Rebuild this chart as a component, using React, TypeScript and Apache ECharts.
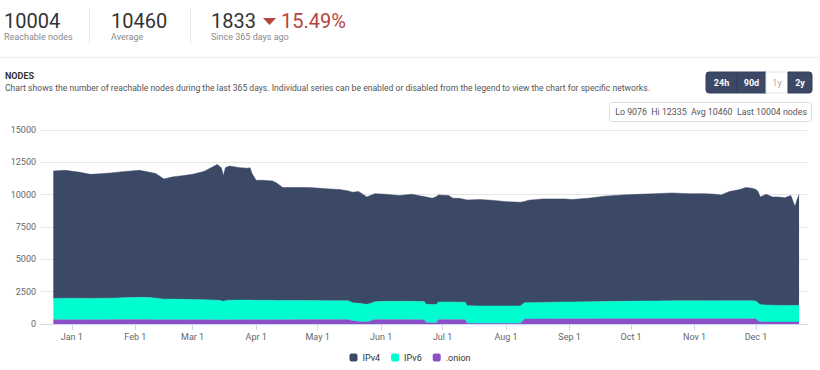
import React, { useEffect, useRef } from "react";
import * as echarts from "echarts";

const dates = [
  "2017-12-23", "2017-12-29", "2018-01-05", "2018-01-10", "2018-01-15", "2018-01-20", "2018-01-26",
  "2018-02-03", "2018-02-08", "2018-02-11", "2018-02-15", "2018-02-19", "2018-02-24", "2018-03-01",
  "2018-03-06", "2018-03-07", "2018-03-10", "2018-03-13", "2018-03-15", "2018-03-16", "2018-03-17",
  "2018-03-19", "2018-03-24", "2018-03-28", "2018-03-29", "2018-03-30", "2018-04-01", "2018-04-04",
  "2018-04-09", "2018-04-11", "2018-04-14", "2018-04-22", "2018-04-27", "2018-05-07", "2018-05-12",
  "2018-05-16", "2018-05-18", "2018-05-21", "2018-05-24", "2018-05-25", "2018-05-27", "2018-05-29",
  "2018-06-03", "2018-06-10", "2018-06-16", "2018-06-21", "2018-06-22", "2018-06-23", "2018-06-26",
  "2018-06-28", "2018-06-29", "2018-07-04", "2018-07-06", "2018-07-09", "2018-07-12", "2018-07-13",
  "2018-07-19", "2018-07-25", "2018-08-01", "2018-08-08", "2018-08-10", "2018-08-12", "2018-08-19",
  "2018-08-30", "2018-09-02", "2018-09-10", "2018-09-18", "2018-09-27", "2018-10-05", "2018-10-13",
  "2018-10-21", "2018-10-29", "2018-11-06", "2018-11-11", "2018-11-14", "2018-11-18", "2018-11-23",
  "2018-11-26", "2018-11-29", "2018-12-01", "2018-12-02", "2018-12-03", "2018-12-06", "2018-12-09",
  "2018-12-12", "2018-12-15", "2018-12-18", "2018-12-20", "2018-12-21", "2018-12-22",
];

const ipv4 = [
  9850, 9890, 9740, 9590, 9630, 9680, 9750,
  9820, 9690, 9630, 9290, 9440, 9560, 9680,
  9900, 9960, 10230, 10495, 10300, 9720, 10290,
  10380, 10240, 10190, 10240, 9790, 9270, 9280,
  9230, 9080, 8730, 8730, 8740, 8640, 8590,
  8500, 8540, 8640, 8390, 8310, 8350, 8360,
  8280, 8170, 8270, 8140, 8110, 8300, 8210,
  8340, 8280, 8230, 8020, 8030, 7930, 8170,
  8230, 8180, 8070, 8010, 7830, 7920, 8000,
  7970, 7920, 8000, 8140, 8220, 8260, 8300,
  8340, 8280, 8290, 8240, 8190, 8440, 8590,
  8750, 8710, 8620, 8620, 8320, 8570, 8370,
  8380, 8330, 8490, 7646, 8160, 8554,
];

const ipv6 = [
  1650, 1660, 1660, 1650, 1660, 1660, 1690,
  1720, 1700, 1670, 1590, 1600, 1580, 1560,
  1550, 1540, 1540, 1520, 1480, 1450, 1480,
  1510, 1520, 1520, 1520, 1510, 1510, 1500,
  1500, 1490, 1490, 1480, 1470, 1460, 1460,
  1450, 1400, 1400, 1380, 1360, 1350, 1380,
  1410, 1420, 1420, 1410, 1410, 1410, 1410,
  1410, 1360, 1360, 1360, 1350, 1350, 1360,
  1340, 1340, 1340, 1340, 1270, 1270, 1280,
  1300, 1300, 1320, 1330, 1350, 1360, 1370,
  1380, 1390, 1380, 1380, 1380, 1390, 1390,
  1390, 1390, 1380, 1390, 1330, 1300, 1290,
  1280, 1280, 1280, 1270, 1280, 1290,
];

const onion = [
  330, 330, 330, 330, 330, 340, 340,
  340, 340, 330, 330, 330, 330, 330,
  330, 330, 320, 320, 310, 300, 320,
  330, 330, 330, 330, 330, 330, 330,
  330, 330, 330, 340, 340, 340, 340,
  340, 250, 200, 160, 150, 250, 340,
  340, 340, 340, 330, 330, 110, 100,
  100, 340, 340, 340, 340, 340, 60,
  50, 50, 50, 60, 380, 380, 390,
  400, 400, 400, 410, 410, 410, 410,
  410, 410, 410, 410, 410, 410, 410,
  410, 400, 400, 230, 170, 160, 160,
  160, 160, 160, 160, 160, 160,
];

const xTickDates = [
  "2018-01-01", "2018-02-01", "2018-03-01", "2018-04-01", "2018-05-01", "2018-06-01",
  "2018-07-01", "2018-08-01", "2018-09-01", "2018-10-01", "2018-11-01", "2018-12-01",
];
const xTickLabels = ["Jan 1", "Feb 1", "Mar 1", "Apr 1", "May 1", "Jun 1", "Jul 1", "Aug 1", "Sep 1", "Oct 1", "Nov 1", "Dec 1"];
const seriesNames = ["IPv4", "IPv6", ".onion"];
const headerValues = ["10004", "10460", "1833"];
const headerLabels = ["Reachable nodes", "Average", "Since 365 days ago"];
const changePct = "15.49%";
const rangeButtons = ["24h", "90d", "1y", "2y"];
const statsText = "Lo 9076  Hi 12335  Avg 10460  Last 10004 nodes";

const toTs = (s: string) => {
  const [y, m, d] = s.split("-").map(Number);
  return Date.UTC(y, m - 1, d);
};

const FONT = "Roboto, 'Noto Sans', sans-serif";

export default function App() {
  const ref = useRef<HTMLDivElement>(null);

  useEffect(() => {
    document.body.style.margin = "0";
    if (!ref.current) return;
    const chart = echarts.init(ref.current, null, { renderer: "svg" });
    const ts = dates.map(toTs);
    const tickTs = xTickDates.map(toTs);
    const mk = (arr: number[]) => arr.map((v, i) => [ts[i], v]);
    const xMin = Date.UTC(2017, 11, 16, 12);
    const xMax = Date.UTC(2018, 11, 25, 21);

    const colors: Record<string, string> = { IPv4: "#3b4866", IPv6: "#00fdd0", ".onion": "#8c50c6" };

    const btnX = [706, 737, 766, 788];
    const btnW = [31, 29, 22, 24];
    const buttons: any[] = [];
    rangeButtons.forEach((b, i) => {
      const active = b !== "1y";
      buttons.push({
        type: "rect",
        shape: { x: btnX[i], y: 72, width: btnW[i], height: 21, r: i === 0 ? [3, 0, 0, 3] : i === 3 ? [0, 3, 3, 0] : 0 },
        style: { fill: active ? "#3b4866" : "#ffffff", stroke: active ? "#33405c" : "#e2e2e2", lineWidth: 1 },
      });
      buttons.push({
        type: "text",
        x: btnX[i] + btnW[i] / 2,
        y: 83,
        style: { text: b, fill: active ? "#ffffff" : "#aaaaaa", fontSize: 9, fontFamily: FONT, fontWeight: active ? "bold" : "normal", align: "center", verticalAlign: "middle" },
      });
    });

    const hx = [4, 111, 211];
    const header: any[] = [];
    headerValues.forEach((v, i) => {
      header.push({ type: "text", x: hx[i], y: 21, style: { text: v, fill: "#333333", fontSize: 20, fontFamily: FONT, verticalAlign: "middle" } });
      header.push({ type: "text", x: hx[i], y: 37, style: { text: headerLabels[i], fill: "#8a8a8a", fontSize: 9, fontFamily: FONT, verticalAlign: "middle" } });
    });

    const areaSeries = (name: string, arr: number[]) => ({
      name,
      type: "line",
      stack: "nodes",
      xAxisIndex: 0,
      data: mk(arr),
      showSymbol: false,
      symbol: "none",
      lineStyle: { width: 0.5, color: colors[name] },
      areaStyle: { color: colors[name], opacity: 1 },
      itemStyle: { color: colors[name] },
    });

    chart.setOption({
      animation: false,
      grid: { left: 40, right: 13, top: 130, bottom: 46, containLabel: false },
      legend: {
        data: seriesNames,
        left: "center",
        top: 348,
        icon: "roundRect",
        itemWidth: 8,
        itemHeight: 8,
        itemGap: 11,
        textStyle: { fontSize: 9, color: "#333333", fontFamily: FONT },
      },
      xAxis: [
        {
          type: "time",
          min: xMin,
          max: xMax,
          axisLine: { show: false },
          axisTick: { show: false },
          axisLabel: { show: false },
          splitLine: { show: false },
        },
        {
          type: "value",
          min: xMin,
          max: xMax,
          position: "bottom",
          axisLine: { show: true, onZero: false, lineStyle: { color: "#ccd6eb" } },
          axisTick: { show: true, customValues: tickTs, length: 6, lineStyle: { color: "#ccd6eb" } },
          axisLabel: {
            customValues: tickTs,
            margin: 8,
            fontSize: 9,
            color: "#666666",
            fontFamily: FONT,
            formatter: (v: number) => {
              const i = tickTs.indexOf(Number(v));
              return i >= 0 ? xTickLabels[i] : "";
            },
          },
          splitLine: { show: false },
        },
      ],
      yAxis: {
        type: "value",
        min: 0,
        max: 15000,
        interval: 2500,
        axisLine: { show: false },
        axisTick: { show: false },
        axisLabel: { fontSize: 9, color: "#666666", fontFamily: FONT, margin: 4, formatter: (v: number) => String(v) },
        splitLine: { lineStyle: { color: "#e6e6e6" } },
      },
      series: [areaSeries(".onion", onion), areaSeries("IPv6", ipv6), areaSeries("IPv4", ipv4)],
      graphic: [
        ...header,
        { type: "line", shape: { x1: 89.5, y1: 8, x2: 89.5, y2: 44 }, style: { stroke: "#e8e8e8", lineWidth: 1 } },
        { type: "line", shape: { x1: 190.5, y1: 8, x2: 190.5, y2: 44 }, style: { stroke: "#e8e8e8", lineWidth: 1 } },
        { type: "polygon", shape: { points: [[263, 18], [276, 18], [269.5, 25]] }, style: { fill: "#b5453f" } },
        { type: "text", x: 281, y: 21, style: { text: changePct, fill: "#b5453f", fontSize: 20, fontFamily: FONT, verticalAlign: "middle" } },
        { type: "line", shape: { x1: 0, y1: 57.5, x2: 820, y2: 57.5 }, style: { stroke: "#eeeeee", lineWidth: 1 } },
        { type: "text", x: 5, y: 76, style: { text: "NODES", fill: "#333333", fontSize: 9, fontWeight: "bold", fontFamily: FONT, verticalAlign: "middle" } },
        { type: "text", x: 5, y: 88, style: { text: "Chart shows the number of reachable nodes during the last 365 days. Individual series can be enabled or disabled from the legend to view the chart for specific networks.", fill: "#555555", fontSize: 8.6, fontFamily: FONT, verticalAlign: "middle" } },
        ...buttons,
        { type: "rect", shape: { x: 609.5, y: 102.5, width: 202, height: 19, r: 2 }, style: { fill: "#ffffff", stroke: "#dddddd", lineWidth: 1 } },
        { type: "text", x: 807, y: 112, style: { text: statsText, fill: "#555555", fontSize: 8.8, fontFamily: FONT, align: "right", verticalAlign: "middle" } },
      ],
    });
    return () => chart.dispose();
  }, []);

  return <div ref={ref} style={{ width: 820, height: 370 }} />;
}
